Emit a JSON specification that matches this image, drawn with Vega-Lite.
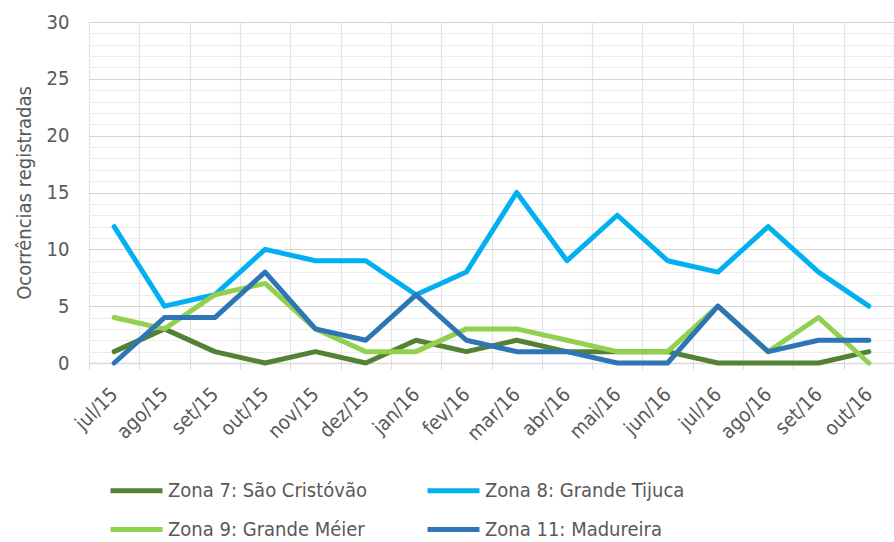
{
  "$schema": "https://vega.github.io/schema/vega-lite/v6.json",
  "autosize": "none",
  "width": 805,
  "height": 341,
  "padding": {"left": 89, "top": 22, "right": 0, "bottom": 179},
  "background": "white",
  "config": {"view": {"stroke": null}, "font": "Liberation Sans Narrow, DejaVu Sans Condensed, Open Sans"},
  "data": {"values": [
    {"mes":"jul/15","zona":"Zona 7: São Cristóvão","valor":1},
    {"mes":"ago/15","zona":"Zona 7: São Cristóvão","valor":3},
    {"mes":"set/15","zona":"Zona 7: São Cristóvão","valor":1},
    {"mes":"out/15","zona":"Zona 7: São Cristóvão","valor":0},
    {"mes":"nov/15","zona":"Zona 7: São Cristóvão","valor":1},
    {"mes":"dez/15","zona":"Zona 7: São Cristóvão","valor":0},
    {"mes":"jan/16","zona":"Zona 7: São Cristóvão","valor":2},
    {"mes":"fev/16","zona":"Zona 7: São Cristóvão","valor":1},
    {"mes":"mar/16","zona":"Zona 7: São Cristóvão","valor":2},
    {"mes":"abr/16","zona":"Zona 7: São Cristóvão","valor":1},
    {"mes":"mai/16","zona":"Zona 7: São Cristóvão","valor":1},
    {"mes":"jun/16","zona":"Zona 7: São Cristóvão","valor":1},
    {"mes":"jul/16","zona":"Zona 7: São Cristóvão","valor":0},
    {"mes":"ago/16","zona":"Zona 7: São Cristóvão","valor":0},
    {"mes":"set/16","zona":"Zona 7: São Cristóvão","valor":0},
    {"mes":"out/16","zona":"Zona 7: São Cristóvão","valor":1},
    {"mes":"jul/15","zona":"Zona 8: Grande Tijuca","valor":12},
    {"mes":"ago/15","zona":"Zona 8: Grande Tijuca","valor":5},
    {"mes":"set/15","zona":"Zona 8: Grande Tijuca","valor":6},
    {"mes":"out/15","zona":"Zona 8: Grande Tijuca","valor":10},
    {"mes":"nov/15","zona":"Zona 8: Grande Tijuca","valor":9},
    {"mes":"dez/15","zona":"Zona 8: Grande Tijuca","valor":9},
    {"mes":"jan/16","zona":"Zona 8: Grande Tijuca","valor":6},
    {"mes":"fev/16","zona":"Zona 8: Grande Tijuca","valor":8},
    {"mes":"mar/16","zona":"Zona 8: Grande Tijuca","valor":15},
    {"mes":"abr/16","zona":"Zona 8: Grande Tijuca","valor":9},
    {"mes":"mai/16","zona":"Zona 8: Grande Tijuca","valor":13},
    {"mes":"jun/16","zona":"Zona 8: Grande Tijuca","valor":9},
    {"mes":"jul/16","zona":"Zona 8: Grande Tijuca","valor":8},
    {"mes":"ago/16","zona":"Zona 8: Grande Tijuca","valor":12},
    {"mes":"set/16","zona":"Zona 8: Grande Tijuca","valor":8},
    {"mes":"out/16","zona":"Zona 8: Grande Tijuca","valor":5},
    {"mes":"jul/15","zona":"Zona 9: Grande Méier","valor":4},
    {"mes":"ago/15","zona":"Zona 9: Grande Méier","valor":3},
    {"mes":"set/15","zona":"Zona 9: Grande Méier","valor":6},
    {"mes":"out/15","zona":"Zona 9: Grande Méier","valor":7},
    {"mes":"nov/15","zona":"Zona 9: Grande Méier","valor":3},
    {"mes":"dez/15","zona":"Zona 9: Grande Méier","valor":1},
    {"mes":"jan/16","zona":"Zona 9: Grande Méier","valor":1},
    {"mes":"fev/16","zona":"Zona 9: Grande Méier","valor":3},
    {"mes":"mar/16","zona":"Zona 9: Grande Méier","valor":3},
    {"mes":"abr/16","zona":"Zona 9: Grande Méier","valor":2},
    {"mes":"mai/16","zona":"Zona 9: Grande Méier","valor":1},
    {"mes":"jun/16","zona":"Zona 9: Grande Méier","valor":1},
    {"mes":"jul/16","zona":"Zona 9: Grande Méier","valor":5},
    {"mes":"ago/16","zona":"Zona 9: Grande Méier","valor":1},
    {"mes":"set/16","zona":"Zona 9: Grande Méier","valor":4},
    {"mes":"out/16","zona":"Zona 9: Grande Méier","valor":0},
    {"mes":"jul/15","zona":"Zona 11: Madureira","valor":0},
    {"mes":"ago/15","zona":"Zona 11: Madureira","valor":4},
    {"mes":"set/15","zona":"Zona 11: Madureira","valor":4},
    {"mes":"out/15","zona":"Zona 11: Madureira","valor":8},
    {"mes":"nov/15","zona":"Zona 11: Madureira","valor":3},
    {"mes":"dez/15","zona":"Zona 11: Madureira","valor":2},
    {"mes":"jan/16","zona":"Zona 11: Madureira","valor":6},
    {"mes":"fev/16","zona":"Zona 11: Madureira","valor":2},
    {"mes":"mar/16","zona":"Zona 11: Madureira","valor":1},
    {"mes":"abr/16","zona":"Zona 11: Madureira","valor":1},
    {"mes":"mai/16","zona":"Zona 11: Madureira","valor":0},
    {"mes":"jun/16","zona":"Zona 11: Madureira","valor":0},
    {"mes":"jul/16","zona":"Zona 11: Madureira","valor":5},
    {"mes":"ago/16","zona":"Zona 11: Madureira","valor":1},
    {"mes":"set/16","zona":"Zona 11: Madureira","valor":2},
    {"mes":"out/16","zona":"Zona 11: Madureira","valor":2}
  ]},
  "mark": {"type": "line", "strokeWidth": 5, "strokeJoin": "round", "strokeCap": "round"},
  "encoding": {
    "x": {
      "field": "mes", "type": "ordinal", "sort": null,
      "scale": {"type": "band", "paddingInner": 0, "paddingOuter": 0},
      "bandPosition": 0.5,
      "axis": {
        "title": null, "tickBand": "extent", "grid": true, "gridColor": "#e3e3e3", "gridWidth": 1.2,
        "domainColor": "#d9d9d9", "domainWidth": 1.5, "tickColor": "#d9d9d9", "tickSize": 6,
        "labelAngle": -45, "labelAlign": "right", "labelBaseline": "middle", "labelPadding": 22,
        "labelFontSize": 20, "labelColor": "#595959"
      }
    },
    "y": {
      "field": "valor", "type": "quantitative",
      "scale": {"domain": [0, 30], "nice": false},
      "axis": {
        "title": "Ocorrências registradas", "titleFontSize": 20, "titleColor": "#595959", "titleFontWeight": "normal", "titlePadding": 12,
        "values": [0,1,2,3,4,5,6,7,8,9,10,11,12,13,14,15,16,17,18,19,20,21,22,23,24,25,26,27,28,29,30],
        "labelExpr": "datum.value % 5 === 0 ? datum.label : ''",
        "labelFontSize": 20, "labelColor": "#595959", "labelPadding": 20,
        "ticks": false, "domain": false, "grid": true, "gridWidth": 1.2,
        "gridColor": {"condition": {"test": "datum.value % 5 === 0", "value": "#d4d4d4"}, "value": "#ececec"}
      }
    },
    "color": {
      "field": "zona", "type": "nominal",
      "scale": {
        "domain": ["Zona 7: São Cristóvão", "Zona 8: Grande Tijuca", "Zona 9: Grande Méier", "Zona 11: Madureira"],
        "range": ["#548235", "#00b0f0", "#92d050", "#2e75b6"]
      },
      "legend": {
        "title": null, "orient": "none", "legendX": 19, "legendY": 440, "columns": 2, "direction": "horizontal",
        "symbolType": "stroke", "symbolSize": 2700, "symbolStrokeWidth": 5,
        "labelFontSize": 20, "labelColor": "#595959", "labelOffset": 3,
        "columnPadding": 50, "rowPadding": -8, "labelLimit": 400
      }
    }
  }
}
